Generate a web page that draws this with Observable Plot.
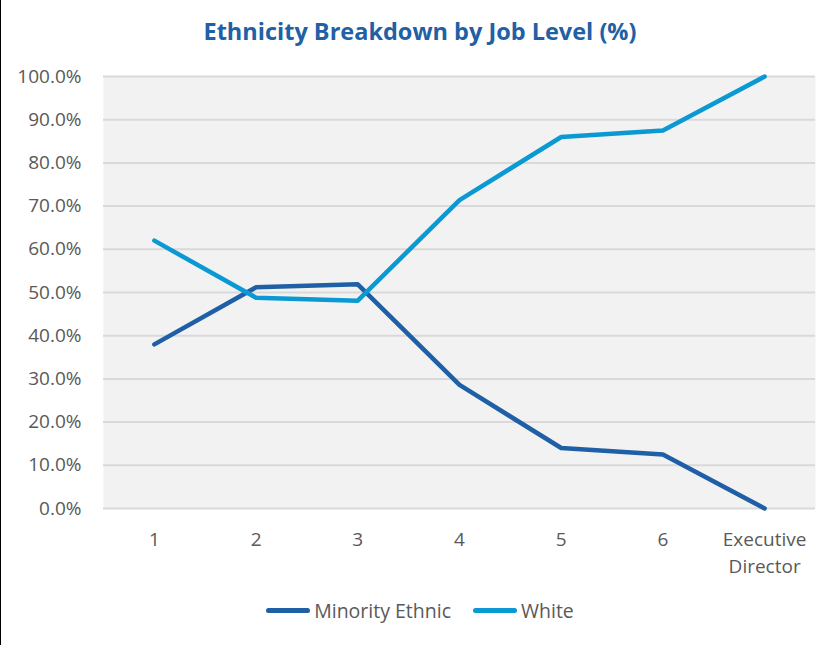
<!DOCTYPE html>
<html>
<head>
<meta charset="utf-8">
<script src="https://cdn.jsdelivr.net/npm/d3@7"></script>
<script src="https://cdn.jsdelivr.net/npm/@observablehq/plot@0.6"></script>
<style>
  html, body { margin: 0; padding: 0; background: #fff; }
  #wrap { position: relative; width: 838px; height: 645px; border-left: 1px solid #000; box-sizing: border-box; font-family: "Open Sans", sans-serif; }
  #title { position: absolute; top: 15px; left: 0; width: 838px; text-align: center; font-size: 23.5px; font-weight: 700; color: #2160a4; }
  #chart { position: absolute; top: 60px; left: -1px; }
  #legend { position: absolute; top: 597px; left: 0; width: 838px; display: flex; justify-content: center; gap: 22px; font-size: 19.5px; color: #595959; }
  .item { display: flex; align-items: center; }
  .sw { width: 44px; height: 5px; border-radius: 3px; margin-right: 4px; }
</style>
</head>
<body>
<div id="wrap">
  <div id="title">Ethnicity Breakdown by Job Level (%)</div>
  <div id="chart"></div>
  <div id="legend"></div>
</div>
<script>
const levels = ["1", "2", "3", "4", "5", "6", "Executive\nDirector"];
const minority = [38.0, 51.2, 51.9, 28.6, 14.0, 12.5, 0.0];
const white = [62.0, 48.8, 48.1, 71.4, 86.0, 87.5, 100.0];
const seriesNames = ["Minority Ethnic", "White"];
const seriesColors = ["#1f5fa5", "#0a99d3"];
const yTicks = [0, 10, 20, 30, 40, 50, 60, 70, 80, 90, 100];

const data = [];
levels.forEach((l, i) => {
  data.push({level: l, value: minority[i], series: seriesNames[0]});
  data.push({level: l, value: white[i], series: seriesNames[1]});
});

const W = 838, H = 520;
const chart = Plot.plot({
  width: W,
  height: H,
  marginLeft: 103,
  marginRight: 23,
  marginTop: 16,
  marginBottom: 72,
  style: {fontFamily: "'Open Sans', sans-serif", fontSize: "19px", color: "#595959", background: "transparent"},
  x: {type: "band", domain: levels, padding: 0, align: 0.5, round: false},
  y: {domain: [0, 100]},
  color: {domain: seriesNames, range: seriesColors},
  marks: [
    Plot.frame({fill: "#f2f2f2", stroke: null}),
    Plot.ruleY(yTicks, {stroke: "#d9d9d9", strokeWidth: 2}),
    Plot.axisY({ticks: yTicks, tickSize: 0, tickPadding: 22, tickFormat: d => d.toFixed(1) + "%", label: null, fill: "#595959"}),
    Plot.axisX({tickSize: 0, tickPadding: 18, label: null, lineHeight: 1.42, fill: "#595959"}),
    Plot.line(data, {x: "level", y: "value", z: "series", stroke: "series", strokeWidth: 4.5, strokeLinejoin: "round", strokeLinecap: "round"})
  ]
});
document.getElementById("chart").appendChild(chart);

const legend = document.getElementById("legend");
seriesNames.forEach((n, i) => {
  const it = document.createElement("div");
  it.className = "item";
  const sw = document.createElement("div");
  sw.className = "sw";
  sw.style.background = seriesColors[i];
  const t = document.createElement("span");
  t.textContent = n;
  it.appendChild(sw);
  it.appendChild(t);
  legend.appendChild(it);
});
</script>
</body>
</html>
